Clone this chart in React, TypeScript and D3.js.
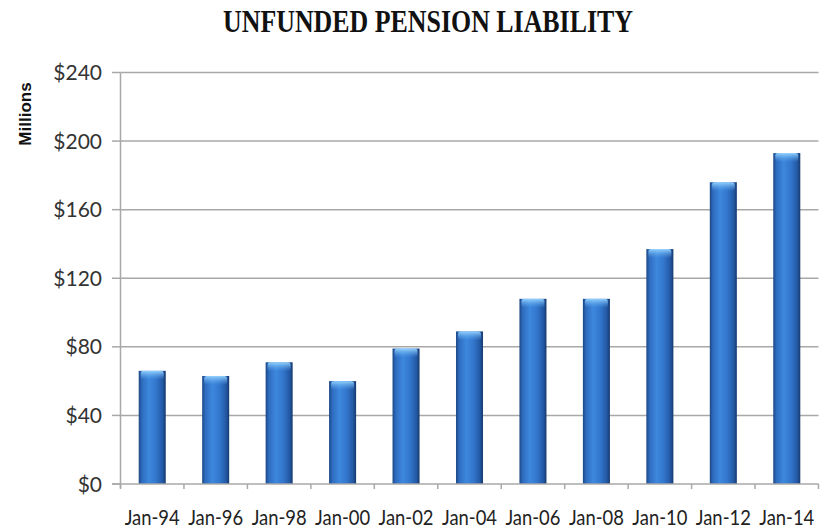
import * as d3 from "d3";
import { useEffect, useRef } from "react";

const categories = [
  "Jan-94",
  "Jan-96",
  "Jan-98",
  "Jan-00",
  "Jan-02",
  "Jan-04",
  "Jan-06",
  "Jan-08",
  "Jan-10",
  "Jan-12",
  "Jan-14",
];
const liability = [66, 63, 71, 60, 79, 89, 108, 108, 137, 176, 193];
const yTicks = [0, 40, 80, 120, 160, 200, 240];

export const PensionChart = () => {
  const ref = useRef<SVGSVGElement>(null);

  useEffect(() => {
    const svg = d3.select(ref.current);
    svg.selectAll("*").remove(); // reset

    const W = 822;
    const H = 529;
    const left = 120.5;
    const right = 818.5;
    const top = 72.5;
    const bottom = 484;

    const x = d3.scaleBand().domain(categories).range([left, right]).paddingInner(0.574).paddingOuter(0.287);
    const y = d3.scaleLinear().domain([0, 240]).range([bottom, top]);

    svg.attr("width", W).attr("height", H);

    const defs = svg.append("defs");
    const g1 = defs.append("linearGradient").attr("id", "barFill").attr("x1", "0").attr("x2", "1").attr("y1", "0").attr("y2", "0");
    [
      [0, "#1c4785"],
      [0.12, "#2e6cbf"],
      [0.38, "#3d88de"],
      [0.65, "#3276cc"],
      [0.88, "#2459a5"],
      [1, "#163a6e"],
    ].forEach(([o, c]) => g1.append("stop").attr("offset", o as number).attr("stop-color", c as string));

    const g2 = defs.append("linearGradient").attr("id", "capFill").attr("x1", "0").attr("x2", "0").attr("y1", "0").attr("y2", "1");
    g2.append("stop").attr("offset", 0).attr("stop-color", "#9ad6ff").attr("stop-opacity", 0.95);
    g2.append("stop").attr("offset", 1).attr("stop-color", "#5aa6ee").attr("stop-opacity", 0);

    // title
    svg
      .append("text")
      .attr("x", 428)
      .attr("y", 31.5)
      .attr("text-anchor", "middle")
      .attr("font-family", "'Liberation Serif', 'Times New Roman', serif")
      .attr("font-weight", "bold")
      .attr("font-size", 32)
      .attr("textLength", 410)
      .attr("lengthAdjust", "spacingAndGlyphs")
      .attr("fill", "#111")
      .text("UNFUNDED PENSION LIABILITY");

    // axis title
    svg
      .append("text")
      .attr("transform", "translate(31,114) rotate(-90)")
      .attr("text-anchor", "middle")
      .attr("font-family", "'Liberation Sans', Arial, sans-serif")
      .attr("font-weight", "bold")
      .attr("font-size", 17)
      .attr("fill", "#111")
      .text("Millions");

    // gridlines + y ticks
    svg
      .append("g")
      .selectAll("line")
      .data(yTicks.filter((d) => d > 0))
      .join("line")
      .attr("x1", left)
      .attr("x2", right)
      .attr("y1", (d) => y(d))
      .attr("y2", (d) => y(d))
      .attr("stroke", "#a8a8a8")
      .attr("stroke-width", 1.5);

    svg
      .append("g")
      .selectAll("line")
      .data(yTicks)
      .join("line")
      .attr("x1", 112)
      .attr("x2", left)
      .attr("y1", (d) => y(d))
      .attr("y2", (d) => y(d))
      .attr("stroke", "#a8a8a8")
      .attr("stroke-width", 1.5);

    svg
      .append("g")
      .selectAll("text")
      .data(yTicks)
      .join("text")
      .attr("x", 102)
      .attr("y", (d) => y(d))
      .attr("dy", "0.36em")
      .attr("text-anchor", "end")
      .attr("font-family", "Lato, 'Open Sans', sans-serif")
      .attr("font-size", 21)
      .attr("fill", "#333")
      .text((d) => "$" + d);

    // bars
    const bars = svg.append("g");
    bars
      .selectAll("rect.bar")
      .data(liability)
      .join("rect")
      .attr("class", "bar")
      .attr("x", (_, i) => x(categories[i])!)
      .attr("width", x.bandwidth())
      .attr("y", (d) => y(d))
      .attr("height", (d) => bottom - y(d))
      .attr("fill", "url(#barFill)");
    bars
      .selectAll("rect.cap")
      .data(liability)
      .join("rect")
      .attr("class", "cap")
      .attr("x", (_, i) => x(categories[i])! + 2)
      .attr("width", x.bandwidth() - 4)
      .attr("y", (d) => y(d))
      .attr("height", 9)
      .attr("rx", 3)
      .attr("fill", "url(#capFill)");

    // axes lines
    svg
      .append("line")
      .attr("x1", left)
      .attr("x2", left)
      .attr("y1", top)
      .attr("y2", bottom + 4)
      .attr("stroke", "#a8a8a8")
      .attr("stroke-width", 1.5);
    svg
      .append("line")
      .attr("x1", 112)
      .attr("x2", right)
      .attr("y1", bottom)
      .attr("y2", bottom)
      .attr("stroke", "#a8a8a8")
      .attr("stroke-width", 1.5);

    const step = x.step();
    svg
      .append("g")
      .selectAll("line")
      .data(d3.range(categories.length + 1))
      .join("line")
      .attr("x1", (i) => left + i * step)
      .attr("x2", (i) => left + i * step)
      .attr("y1", bottom)
      .attr("y2", bottom + 5)
      .attr("stroke", "#a8a8a8")
      .attr("stroke-width", 1.5);

    svg
      .append("g")
      .selectAll("text")
      .data(categories)
      .join("text")
      .attr("x", (d) => x(d)! + x.bandwidth() / 2)
      .attr("y", 525)
      .attr("text-anchor", "middle")
      .attr("font-family", "Lato, 'Open Sans', sans-serif")
      .attr("font-size", 21)
      .attr("textLength", 55)
      .attr("lengthAdjust", "spacingAndGlyphs")
      .attr("fill", "#222")
      .text((d) => d);
  }, []);

  return (
    <div style={{ position: "absolute", left: 0, top: 0, background: "#fff" }}>
      <svg ref={ref} style={{ display: "block" }}></svg>
    </div>
  );
};

export default PensionChart;
